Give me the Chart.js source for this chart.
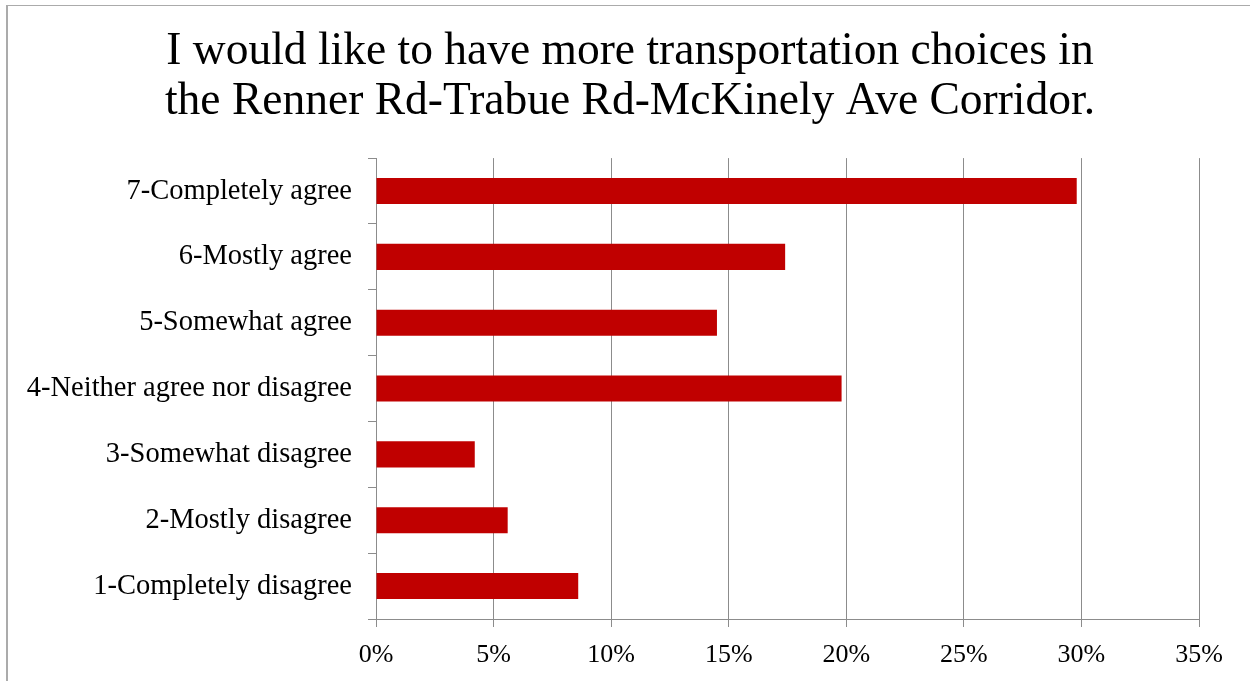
<!DOCTYPE html>
<html>
<head>
<meta charset="utf-8">
<script src="https://cdn.jsdelivr.net/npm/chart.js@4"></script>
<style>
  html, body { margin: 0; padding: 0; background: #fff; }
  #wrap { position: absolute; left: 0; top: 0; width: 1250px; height: 681px; }
</style>
</head>
<body>
<div id="wrap"><canvas id="c" width="1250" height="681"></canvas></div>
<script>
const titleLines = ["I would like to have more transportation choices in", "the Renner Rd-Trabue Rd-McKinely Ave Corridor."];
const categories = ["7-Completely agree", "6-Mostly agree", "5-Somewhat agree", "4-Neither agree nor disagree", "3-Somewhat disagree", "2-Mostly disagree", "1-Completely disagree"];
const percentValues = [29.8, 17.4, 14.5, 19.8, 4.2, 5.6, 8.6];
const xTickValues = [0, 5, 10, 15, 20, 25, 30, 35];

const FONT = "'Liberation Serif', 'Times New Roman', serif";
const GRID = '#8c8c8c';

const frame = {
  id: 'frame',
  afterDraw(chart) {
    const ctx = chart.ctx;
    ctx.save();
    ctx.strokeStyle = '#ababab';
    ctx.lineWidth = 1;
    ctx.beginPath();
    ctx.moveTo(6, 5.5); ctx.lineTo(1250, 5.5);
    ctx.stroke();
    ctx.lineWidth = 2;
    ctx.beginPath();
    ctx.moveTo(7, 5); ctx.lineTo(7, 681);
    ctx.stroke();
    ctx.restore();
  }
};

new Chart(document.getElementById('c'), {
  type: 'bar',
  data: {
    labels: categories,
    datasets: [{
      data: percentValues,
      backgroundColor: '#c00000',
      borderWidth: 0,
      categoryPercentage: 0.4,
      barPercentage: 0.99
    }]
  },
  options: {
    indexAxis: 'y',
    responsive: false,
    animation: false,
    devicePixelRatio: 1,
    layout: { padding: { left: 10, right: 0, top: 0, bottom: 0 } },
    plugins: {
      legend: { display: false },
      tooltip: { enabled: false },
      title: {
        display: true,
        text: titleLines,
        color: '#000',
        font: { family: FONT, size: 45.5, weight: 'normal', lineHeight: 1.1 },
        padding: { top: 27, bottom: 31 }
      }
    },
    scales: {
      x: {
        type: 'linear',
        min: 0,
        max: 35,
        afterBuildTicks(scale) { scale.ticks = xTickValues.map(v => ({ value: v })); },
        afterFit(scale) { scale.height = 62; },
        ticks: {
          color: '#000',
          font: { family: FONT, size: 26 },
          padding: 13,
          callback: v => v + '%'
        },
        grid: { color: GRID, lineWidth: 1, drawTicks: true, tickLength: 8 },
        border: { display: true, color: GRID, width: 1 }
      },
      y: {
        afterFit(scale) { scale.width = 366; },
        ticks: {
          color: '#000',
          font: { family: FONT, size: 28.5 },
          padding: 16
        },
        grid: { drawOnChartArea: false, drawTicks: true, tickLength: 8, color: GRID, offset: true },
        border: { display: true, color: GRID, width: 1 }
      },
      spacer: {
        type: 'linear',
        axis: 'y',
        position: 'right',
        display: true,
        afterFit(scale) { scale.width = 51; },
        ticks: { display: false },
        grid: { display: false, drawTicks: false },
        border: { display: false }
      }
    }
  },
  plugins: [frame]
});
</script>
</body>
</html>
